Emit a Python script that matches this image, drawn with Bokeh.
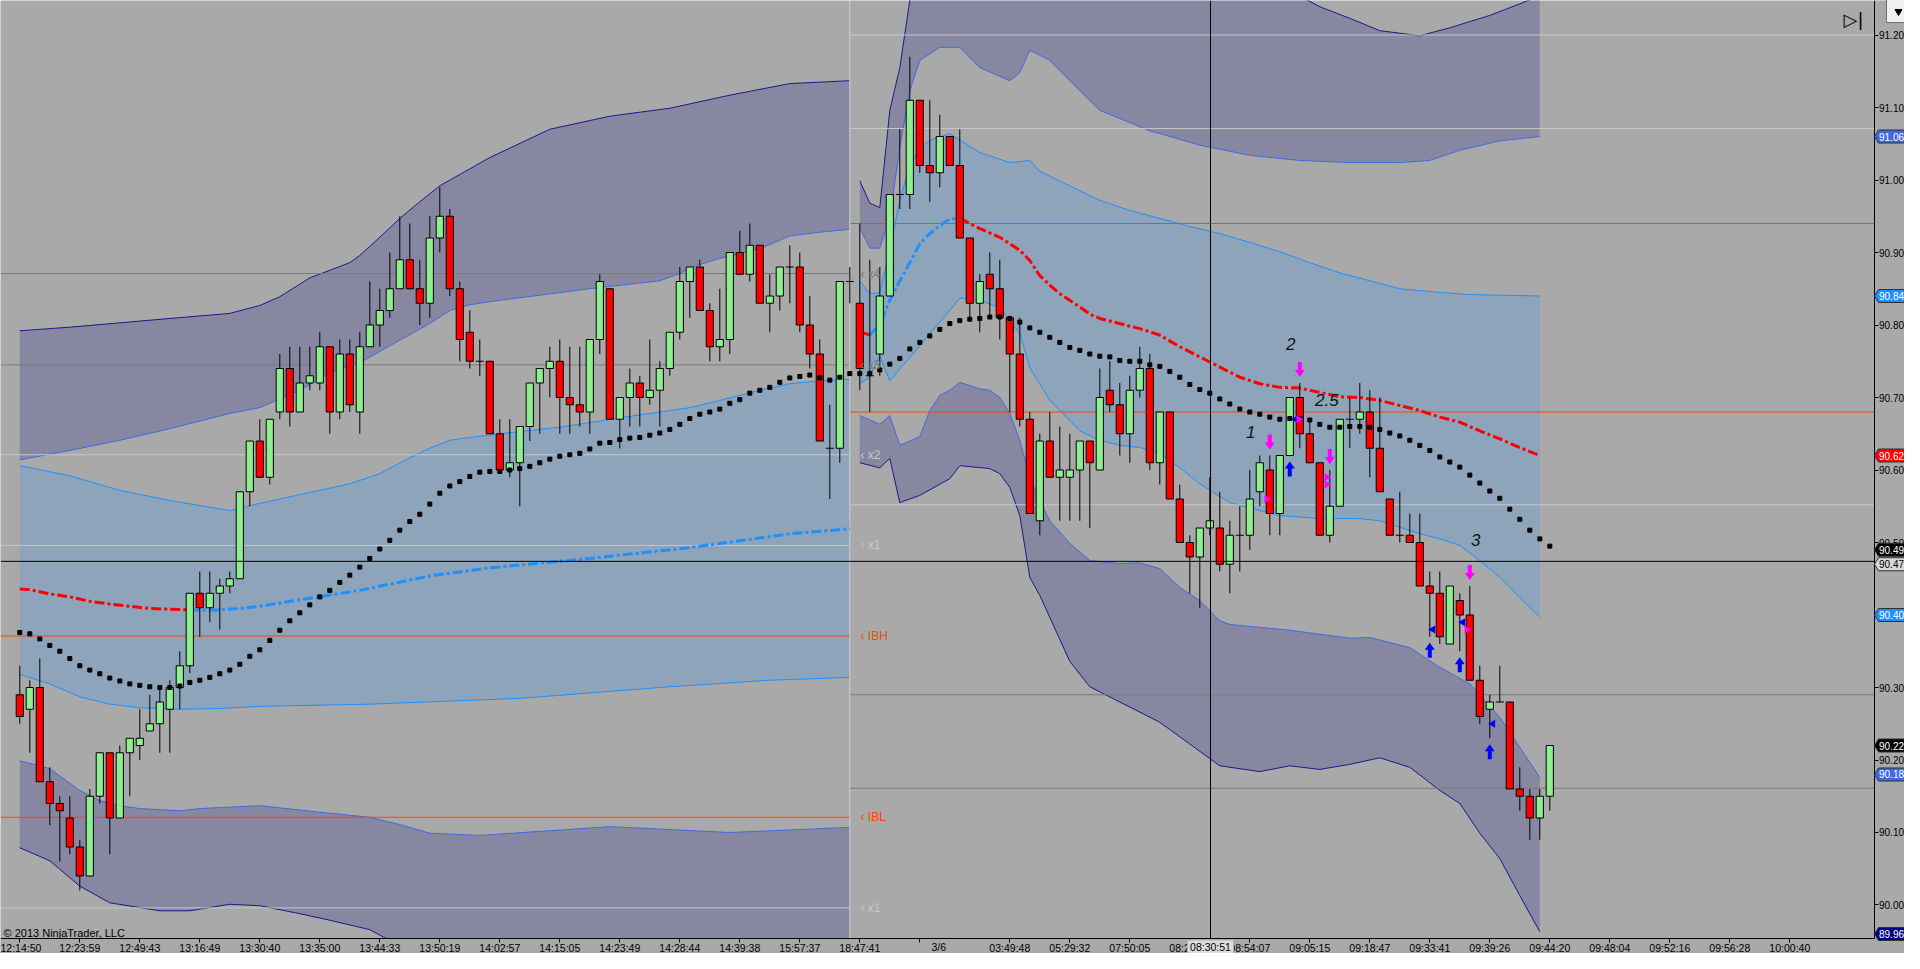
from bokeh.plotting import figure
from bokeh.models import Range1d, FixedTicker, PrintfTickFormatter, Label
from bokeh.core.properties import value
from bokeh.embed import file_html
from bokeh.resources import INLINE

# ---------------- data ----------------
opens = [90.29,90.27,90.30,90.17,90.14,90.12,90.08,90.04,90.15,90.21,
 90.12,90.21,90.22,90.24,90.25,90.27,90.30,90.33,90.43,90.41,
 90.43,90.44,90.45,90.57,90.64,90.59,90.68,90.74,90.68,90.72,
 90.72,90.77,90.68,90.76,90.68,90.77,90.80,90.82,90.85,90.89,
 90.85,90.83,90.92,90.95,90.85,90.79,90.75,90.75,90.65,90.60,
 90.61,90.66,90.72,90.74,90.75,90.70,90.69,90.68,90.78,90.85,
 90.67,90.70,90.72,90.70,90.71,90.74,90.79,90.86,90.88,90.82,
 90.77,90.78,90.90,90.87,90.91,90.83,90.84,90.88,90.88,90.80,
 90.76,90.63,90.63,90.86,90.83,90.73,90.76,90.84,90.98,90.98,
 91.11,91.02,91.01,91.06,91.02,90.92,90.83,90.87,90.85,90.81,
 90.76,90.67,90.53,90.64,90.59,90.59,90.60,90.64,90.60,90.71,
 90.69,90.65,90.71,90.74,90.61,90.68,90.56,90.50,90.48,90.52,
 90.52,90.47,90.51,90.51,90.57,90.60,90.54,90.62,90.70,90.65,
 90.61,90.51,90.55,90.67,90.67,90.68,90.63,90.56,90.51,90.51,
 90.50,90.44,90.43,90.36,90.42,90.40,90.31,90.27,90.28,90.28,
 90.16,90.15,90.12,90.15]
highs = [90.33,90.31,90.34,90.19,90.15,90.15,90.09,90.16,90.21,90.21,
 90.22,90.23,90.27,90.29,90.30,90.31,90.35,90.43,90.46,90.46,
 90.45,90.46,90.57,90.64,90.67,90.67,90.76,90.77,90.77,90.77,
 90.79,90.77,90.78,90.78,90.79,90.86,90.85,90.90,90.95,90.94,
 90.89,90.95,90.99,90.96,90.86,90.82,90.78,90.75,90.67,90.67,
 90.66,90.72,90.74,90.77,90.78,90.77,90.77,90.78,90.87,90.85,
 90.70,90.74,90.73,90.78,90.75,90.79,90.88,90.88,90.89,90.83,
 90.85,90.90,90.93,90.94,90.91,90.87,90.88,90.91,90.90,90.84,
 90.78,90.69,90.86,90.88,90.94,90.89,90.88,90.98,91.07,91.17,
 91.11,91.11,91.09,91.06,91.07,90.92,90.87,90.90,90.89,90.81,
 90.81,90.68,90.65,90.68,90.66,90.65,90.64,90.64,90.74,90.75,
 90.72,90.73,90.77,90.76,90.68,90.68,90.58,90.51,90.52,90.59,
 90.57,90.53,90.55,90.60,90.62,90.62,90.62,90.70,90.72,90.67,
 90.61,90.60,90.67,90.70,90.72,90.71,90.70,90.56,90.57,90.54,
 90.54,90.46,90.46,90.44,90.43,90.44,90.33,90.29,90.33,90.28,
 90.19,90.16,90.16,90.22]
lows = [90.25,90.21,90.17,90.11,90.06,90.07,90.02,90.04,90.14,90.07,
 90.12,90.15,90.20,90.24,90.21,90.21,90.27,90.32,90.37,90.39,
 90.38,90.43,90.45,90.55,90.59,90.58,90.67,90.66,90.68,90.71,
 90.71,90.65,90.67,90.68,90.65,90.77,90.77,90.81,90.85,90.85,
 90.80,90.81,90.90,90.84,90.75,90.74,90.73,90.65,90.60,90.59,
 90.55,90.64,90.65,90.70,90.65,90.65,90.66,90.65,90.76,90.67,
 90.63,90.66,90.66,90.69,90.66,90.73,90.78,90.81,90.82,90.75,
 90.75,90.76,90.87,90.86,90.83,90.79,90.82,90.83,90.79,90.74,
 90.64,90.56,90.61,90.83,90.71,90.68,90.73,90.84,90.96,90.96,
 91.01,90.97,90.99,91.02,90.92,90.81,90.79,90.81,90.78,90.68,
 90.66,90.54,90.51,90.59,90.53,90.53,90.53,90.52,90.60,90.68,
 90.62,90.61,90.70,90.60,90.58,90.56,90.50,90.43,90.41,90.51,
 90.46,90.43,90.46,90.49,90.55,90.51,90.51,90.62,90.63,90.61,
 90.51,90.50,90.55,90.63,90.65,90.59,90.57,90.51,90.50,90.50,
 90.44,90.37,90.36,90.36,90.35,90.31,90.25,90.23,90.28,90.16,
 90.13,90.09,90.09,90.13]
closes = [90.26,90.30,90.17,90.14,90.13,90.08,90.04,90.15,90.21,90.12,
 90.21,90.23,90.23,90.25,90.28,90.30,90.33,90.43,90.41,90.43,
 90.44,90.45,90.57,90.64,90.59,90.67,90.74,90.68,90.72,90.73,
 90.77,90.68,90.76,90.69,90.77,90.80,90.82,90.85,90.89,90.85,
 90.83,90.92,90.95,90.85,90.78,90.75,90.75,90.65,90.60,90.61,
 90.66,90.72,90.74,90.75,90.70,90.69,90.68,90.78,90.86,90.67,
 90.70,90.72,90.70,90.71,90.74,90.79,90.86,90.88,90.82,90.77,
 90.78,90.90,90.87,90.91,90.83,90.84,90.88,90.88,90.80,90.76,
 90.64,90.63,90.86,90.86,90.74,90.73,90.84,90.98,90.98,91.11,
 91.02,91.01,91.06,91.02,90.92,90.83,90.86,90.85,90.81,90.76,
 90.67,90.54,90.64,90.59,90.60,90.60,90.64,90.61,90.70,90.69,
 90.65,90.71,90.74,90.61,90.68,90.56,90.50,90.48,90.52,90.53,
 90.47,90.51,90.51,90.56,90.61,90.54,90.62,90.70,90.65,90.61,
 90.51,90.55,90.67,90.67,90.68,90.63,90.57,90.51,90.51,90.50,
 90.44,90.43,90.37,90.44,90.40,90.31,90.26,90.28,90.28,90.16,
 90.15,90.12,90.15,90.22]

# black dotted moving average
ma_dots = [90.376,90.374,90.367,90.358,90.350,90.340,90.330,90.324,90.319,90.313,
 90.309,90.305,90.303,90.301,90.300,90.300,90.302,90.307,90.310,90.314,
 90.319,90.324,90.332,90.343,90.352,90.365,90.379,90.392,90.403,90.414,
 90.425,90.434,90.445,90.455,90.466,90.478,90.491,90.503,90.517,90.529,
 90.539,90.553,90.568,90.578,90.584,90.591,90.597,90.598,90.598,90.600,
 90.602,90.605,90.610,90.615,90.619,90.621,90.623,90.629,90.637,90.638,
 90.642,90.644,90.645,90.648,90.651,90.656,90.663,90.671,90.677,90.680,
 90.684,90.692,90.697,90.706,90.710,90.714,90.721,90.727,90.729,90.731,
 90.727,90.724,90.728,90.733,90.733,90.733,90.738,90.746,90.754,90.767,
 90.776,90.785,90.794,90.802,90.806,90.808,90.809,90.811,90.811,90.809,
 90.804,90.796,90.790,90.783,90.776,90.769,90.765,90.760,90.757,90.756,
 90.751,90.750,90.750,90.745,90.743,90.736,90.728,90.718,90.711,90.706,
 90.698,90.691,90.684,90.680,90.677,90.673,90.670,90.671,90.671,90.669,
 90.663,90.659,90.659,90.660,90.660,90.659,90.656,90.651,90.647,90.641,
 90.634,90.627,90.618,90.611,90.604,90.593,90.582,90.571,90.561,90.546,
 90.532,90.517,90.505,90.495]

# session A (previous day) VWAP and bands
a_vw_x = [0,1,3,5,7,9,11,13,15,17,20,22,24,28,34,41,47,57,67,77,83]
a_vw = [90.436,90.435,90.429,90.425,90.419,90.415,90.412,90.409,90.408,90.407,90.407,
        90.409,90.412,90.421,90.434,90.454,90.465,90.478,90.493,90.512,90.519]
a_u3_x = [0,5,10,15,21,24,26,29,33,34,36,38,40,42,47,53,59,65,71,77,83]
a_u3 = [90.792,90.797,90.803,90.809,90.816,90.827,90.839,90.865,90.886,90.896,
        90.921,90.947,90.970,90.992,91.031,91.070,91.088,91.099,91.117,91.133,91.137]
a_u2_x = [0,5,10,15,21,24,28,31,34,38,41,43,45,48,57,64,66,67,70,74,77,80,83]
a_u2 = [90.614,90.627,90.641,90.657,90.678,90.686,90.710,90.734,90.748,90.779,
        90.802,90.820,90.828,90.834,90.850,90.861,90.871,90.879,90.892,90.905,90.923,90.928,90.932]
a_u1_x = [0,5,10,15,21,24,29,33,36,39,41,43,45,48,54,60,67,70,74,77,80,83]
a_u1 = [90.606,90.592,90.572,90.558,90.544,90.554,90.569,90.581,90.595,90.617,
        90.630,90.641,90.645,90.650,90.659,90.672,90.686,90.696,90.710,90.719,90.723,90.725]
a_l1_x = [0,3,6,9,12,16,20,24,35,50,65,75,83]
a_l1 = [90.318,90.305,90.287,90.277,90.272,90.270,90.271,90.274,90.277,90.285,90.301,90.310,90.314]
a_l2_x = [0,3,6,8,10,12,16,18,24,30,35,38,41,46,59,71,83]
a_l2 = [90.199,90.188,90.158,90.144,90.137,90.133,90.130,90.133,90.137,90.128,90.121,90.111,
        90.099,90.096,90.108,90.100,90.107]
a_l3_x = [0,3,6,9,14,17,21,24,28,31,35,37,42,50,60,70,83]
a_l3 = [90.079,90.061,90.026,90.003,89.992,89.992,90.001,89.999,89.988,89.979,89.966,89.951,
        89.923,89.896,89.882,89.882,89.889]

# session B (3/6) VWAP and bands
b_vw_x = [84,85,86,87,88,89,90,91,92,93,94,96,98,100,101,102,103,104,105,106,107,108,110,112,
          114,116,118,120,122,124,126,128,130,132,134,136,138,140,142,144,146,148,150,152]
b_vw = [90.791,90.786,90.801,90.834,90.861,90.886,90.912,90.926,90.937,90.946,90.947,90.933,
        90.921,90.903,90.889,90.868,90.855,90.843,90.834,90.825,90.815,90.809,90.802,90.795,
        90.786,90.770,90.756,90.742,90.728,90.719,90.714,90.713,90.707,90.701,90.700,90.696,
        90.689,90.682,90.673,90.666,90.654,90.643,90.631,90.620]
b_u3_x = [84,85,86,87,88,89,90,95,100,110,120,127,130,133,136,140,143,147,150,152]
b_u3 = [90.999,90.968,90.962,91.096,91.155,91.248,91.303,91.386,91.413,91.386,91.330,91.261,
        91.239,91.223,91.206,91.199,91.210,91.227,91.243,91.254]
b_u2_x = [84,85,86,87,88,89,90,92,94,96,99,100,101,103,105,108,113,118,123,128,133,138,141,144,148,152]
b_u2 = [90.934,90.906,90.906,90.948,91.045,91.123,91.165,91.183,91.183,91.155,91.137,91.148,
        91.179,91.165,91.137,91.096,91.068,91.048,91.034,91.027,91.024,91.024,91.027,91.041,91.054,91.060]
b_u1_x = [84,85,86,87,88,89,90,91,93,96,99,101,102,105,108,111,114,117,120,123,126,129,132,135,138,142,145,152]
b_u1 = [90.861,90.843,90.845,90.904,90.972,91.020,91.044,91.055,91.064,91.038,91.024,91.027,
        91.012,90.992,90.972,90.958,90.947,90.936,90.926,90.914,90.901,90.886,90.872,90.861,
        90.850,90.845,90.842,90.840]
b_l1_x = [84,85,86,87,89,91,93,94,96,98,100,101,103,106,108,110,112,114,116,118,121,124,126,
          130,134,136,138,140,142,144,146,148,150,152]
b_l1 = [90.719,90.728,90.757,90.723,90.755,90.788,90.820,90.837,90.834,90.824,90.788,90.741,
        90.696,90.654,90.641,90.634,90.631,90.623,90.603,90.581,90.555,90.544,90.537,90.533,
        90.533,90.530,90.521,90.512,90.505,90.496,90.475,90.452,90.424,90.397]
b_l2_x = [84,86,87,88,90,91,92,93,94,96,97,98,99,100,101,102,103,105,107,110,112,114,116,118,
          120,121,127,133,135,139,142,145,148,152]
b_l2 = [90.675,90.663,90.675,90.634,90.646,90.682,90.703,90.710,90.721,90.712,90.710,90.700,
        90.678,90.641,90.590,90.558,90.530,90.499,90.475,90.471,90.472,90.464,90.438,90.420,
        90.392,90.387,90.379,90.368,90.369,90.355,90.328,90.305,90.259,90.176]
b_l3_x = [84,86,87,88,90,93,94,97,98,99,100,101,102,105,107,114,120,124,127,130,133,136,139,
          142,144,146,148,150,152]
b_l3 = [90.610,90.603,90.616,90.555,90.565,90.588,90.606,90.602,90.595,90.576,90.537,90.452,
        90.427,90.336,90.301,90.252,90.192,90.184,90.192,90.187,90.194,90.203,90.190,90.158,
        90.140,90.099,90.064,90.013,89.963]

# horizontal levels
left_levels = [90.871, 90.745, 90.621, 90.496, 90.371, 90.121, 89.996]
left_names = ["x4", "x3", "x2", "x1", "IBH", "IBL", "x1"]
right_levels = [91.200, 91.071, 90.940, 90.680, 90.552, 90.290, 90.161]

# trade markers
down_arrow_bars = [125, 128, 131, 145]
up_arrow_bars = [127, 141, 144, 147]
buy_marks_x = [127.6, 141.3, 144.3, 147.3]
buy_marks_y = [90.67, 90.38, 90.39, 90.25]
sell_marks_x = [124.7, 127.9, 130.7, 130.7, 144.7]
sell_marks_y = [90.56, 90.67, 90.59, 90.58, 90.38]
notes = ["1", "2", "2.5", "3"]
notes_x = [123.1, 127.1, 130.7, 145.6]
notes_y = [90.652, 90.774, 90.696, 90.503]

price_ticks = [90.00, 90.10, 90.20, 90.30, 90.40, 90.50, 90.60, 90.70, 90.80, 90.90, 91.00, 91.10, 91.20]
time_ticks = [0,6,12,18,24,30,36,42,48,54,60,66,72,78,84,90,99,105,111,117,123,129,135,141,147,153,159,165,171,177]
time_labels = ["12:14:50","12:23:59","12:49:43","13:16:49","13:30:40","13:35:00","13:44:33","13:50:19",
               "14:02:57","14:15:05","14:23:49","14:28:44","14:39:38","15:57:37","18:47:41","",
               "03:49:48","05:29:32","07:50:05","08:24:36","08:54:07","09:05:15","09:18:47","09:33:41",
               "09:39:26","09:44:20","09:48:04","09:52:16","09:56:28","10:00:40"]
date_label = "3/6"
date_label_x = 91.9
cross_bar = 119.07
cross_price = 90.474
cross_time = "08:30:51"

# right-axis price markers: (price, background, text colour)
tags = [(91.06, "#4169E1", "white"), (90.84, "#1E90FF", "white"), (90.62, "#FF0000", "white"),
        (90.49, "#000000", "white"), (90.47, "#D8D8D8", "black"), (90.40, "#1E90FF", "white"),
        (90.22, "#000000", "white"), (90.18, "#4169E1", "white"), (89.96, "#000080", "white")]

# ---------------- figure ----------------
BG = "#A9A9A9"
FONT = "Liberation Sans"
PX = 0.1          # one screen pixel in bar units
PY = 1.0 / 725.0  # one screen pixel in price units
X0, X1 = -1.93, 188.47
Y0, Y1 = 89.9331, 91.2476
YAX = 185.42      # bar position of the price axis
XAX = 89.9538     # price position of the time axis

p = figure(width=1904, height=953, x_range=Range1d(X0, X1), y_range=Range1d(Y0, Y1),
           output_backend="svg", toolbar_location=None, y_axis_location="right",
           min_border_left=0, min_border_right=0, min_border_top=0, min_border_bottom=0,
           background_fill_color=BG, border_fill_color=BG, outline_line_color=None)
p.grid.visible = False

xa = p.xaxis[0]
xa.ticker = FixedTicker(ticks=time_ticks)
xa.major_label_overrides = {t: l for t, l in zip(time_ticks, time_labels)}
xa.fixed_location = XAX
xa.bounds = (X0, YAX)
ya = p.yaxis[0]
ya.ticker = FixedTicker(ticks=price_ticks)
ya.formatter = PrintfTickFormatter(format="%.2f")
ya.fixed_location = YAX
ya.bounds = (XAX, Y1)
for ax in (xa, ya):
    ax.axis_line_color = "black"
    ax.major_tick_line_color = "black"
    ax.minor_tick_line_color = None
    ax.major_tick_in = 0
    ax.major_tick_out = 4
    ax.major_label_text_font = FONT
    ax.major_label_text_color = "black"
xa.major_label_text_font_size = "10.5px"
xa.major_label_standoff = 0
ya.major_label_text_font_size = "10px"
ya.major_label_standoff = 1


def band(xu, yu, xl, yl, color):
    p.patch(list(xu) + list(xl)[::-1], list(yu) + list(yl)[::-1],
            fill_color=color, fill_alpha=0.2, line_color=None)


# band fills
for s in ((a_u3_x, a_u3, a_u2_x, a_u2, "#000080"), (a_u1_x, a_u1, a_l1_x, a_l1, "#1E90FF"),
          (a_l2_x, a_l2, a_l3_x, a_l3, "#000080"),
          (b_u3_x, b_u3, b_u2_x, b_u2, "#000080"), (b_u1_x, b_u1, b_l1_x, b_l1, "#1E90FF"),
          (b_l2_x, b_l2, b_l3_x, b_l3, "#000080")):
    band(*s)

# band edge lines
for xs, ys, c in ((a_u3_x, a_u3, "#1A1A8C"), (a_l3_x, a_l3, "#1A1A8C"),
                  (a_u2_x, a_u2, "#4169E1"), (a_l2_x, a_l2, "#4169E1"),
                  (a_u1_x, a_u1, "#1E90FF"), (a_l1_x, a_l1, "#1E90FF"),
                  (b_u3_x, b_u3, "#1A1A8C"), (b_l3_x, b_l3, "#1A1A8C"),
                  (b_u2_x, b_u2, "#4169E1"), (b_l2_x, b_l2, "#4169E1"),
                  (b_u1_x, b_u1, "#1E90FF"), (b_l1_x, b_l1, "#1E90FF")):
    p.line(xs, ys, line_color=c, line_width=1)

# keep the axis strips clear
p.quad(left=[X0], right=[X1], bottom=[Y0], top=[XAX], fill_color=BG, line_color=None)
p.quad(left=[YAX], right=[X1], bottom=[Y0], top=[Y1], fill_color=BG, line_color=None)

# horizontal level lines
left_colors = ["#7A7A7A", "#7A7A7A", "#C8C8C8", "#C8C8C8", "#FF4500", "#FF4500", "#C8C8C8"]
right_colors = ["#C8C8C8", "#C8C8C8", "#FF4500", "#FF4500", "#C8C8C8", "#7A7A7A", "#7A7A7A"]
p.segment(x0=[X0] * len(left_levels), y0=left_levels, x1=[83] * len(left_levels), y1=left_levels,
          line_color=left_colors, line_width=1)
p.segment(x0=[83] * len(right_levels), y0=right_levels, x1=[YAX] * len(right_levels), y1=right_levels,
          line_color=right_colors, line_width=1)
for lv, nm, c in zip(left_levels, left_names, left_colors):
    p.add_layout(Label(x=84.07, y=lv, text="\u2039 " + nm, text_font=FONT, text_font_size="12px",
                       text_color=c, text_baseline="middle", text_align="left"))

# session break
p.segment(x0=[83], y0=[XAX], x1=[83], y1=[Y1], line_color="#D0D0D0", line_width=1)

# VWAP lines (red while falling, blue while rising)
DASH = "10 3 3 3"
p.line(a_vw_x[:10], a_vw[:10], line_color="#FF0000", line_width=3, line_dash=DASH)
p.line(a_vw_x[9:], a_vw[9:], line_color="#1E90FF", line_width=3, line_dash=DASH)
p.line(b_vw_x[:2], b_vw[:2], line_color="#FF0000", line_width=3, line_dash=DASH)
p.line(b_vw_x[1:11], b_vw[1:11], line_color="#1E90FF", line_width=3, line_dash=DASH)
p.line(b_vw_x[10:], b_vw[10:], line_color="#FF0000", line_width=3, line_dash=DASH)

# candles
idx = list(range(len(opens)))
p.segment(x0=idx, y0=highs, x1=idx, y1=lows, line_color="black", line_width=1)
body_i = [i for i in idx if opens[i] != closes[i]]
p.vbar(x=body_i, width=0.72,
       top=[max(opens[i], closes[i]) for i in body_i],
       bottom=[min(opens[i], closes[i]) for i in body_i],
       fill_color=["#90EE90" if closes[i] > opens[i] else "#FF0000" for i in body_i],
       line_color="black", line_width=1)
doji_i = [i for i in idx if opens[i] == closes[i]]
p.segment(x0=[i - 0.4 for i in doji_i], y0=[opens[i] for i in doji_i],
          x1=[i + 0.4 for i in doji_i], y1=[opens[i] for i in doji_i], line_color="black", line_width=1)

# moving-average dots
p.scatter(idx, ma_dots, marker="square", size=4, color="black")

# trade arrows
shape = [(0, 0), (5, 7), (2, 7), (2, 15), (-2, 15), (-2, 7), (-5, 7)]
dxs, dys = [], []
for b in down_arrow_bars:
    tip = highs[b] + 6 * PY
    dxs.append([b + sx * PX for sx, sy in shape])
    dys.append([tip + sy * PY for sx, sy in shape])
p.patches(dxs, dys, fill_color="#FF00FF", line_color=None)
uxs, uys = [], []
for b in up_arrow_bars:
    tip = lows[b] - 6 * PY
    uxs.append([b + sx * PX for sx, sy in shape])
    uys.append([tip - sy * PY for sx, sy in shape])
p.patches(uxs, uys, fill_color="#0000FF", line_color=None)
p.scatter(buy_marks_x, buy_marks_y, marker="triangle", size=8, angle=1.5708,
          fill_color="#0000FF", line_color=None)
p.scatter(sell_marks_x, sell_marks_y, marker="triangle", size=8, angle=-1.5708,
          fill_color="#FF00FF", line_color=None)

for t, tx, ty in zip(notes, notes_x, notes_y):
    p.add_layout(Label(x=tx, y=ty, text=t, text_font=FONT, text_font_size="17px",
                       text_font_style="italic", text_color="#111111",
                       text_align="center", text_baseline="middle"))

# crosshair
p.segment(x0=[cross_bar], y0=[XAX], x1=[cross_bar], y1=[Y1], line_color="black", line_width=1)
p.segment(x0=[X0], y0=[cross_price], x1=[YAX], y1=[cross_price], line_color="black", line_width=1)
LBL_Y = XAX - 9 * PY
p.quad(left=[cross_bar - 2.3], right=[cross_bar + 2.3], bottom=[Y0], top=[XAX - 1.5 * PY],
       fill_color="#DCDCDC", line_color="#B0B0B0", level="overlay")
p.text(x=[cross_bar], y=[LBL_Y], text=[cross_time], text_font=value(FONT), text_font_size="10.5px",
       text_color="black", text_align="center", text_baseline="middle", level="overlay")
p.text(x=[date_label_x], y=[LBL_Y], text=[date_label], text_font=value(FONT), text_font_size="10.5px",
       text_color="black", text_align="center", text_baseline="middle")

# right-axis price tags
H = 6.5 * PY
txs, tys = [], []
for pr, bg, fg in tags:
    txs.append([YAX + 0.05, YAX + 0.45, X1 + 1, X1 + 1, YAX + 0.45])
    tys.append([pr, pr + H, pr + H, pr - H, pr - H])
p.patches(txs, tys, fill_color=[t[1] for t in tags], line_color="#303030", line_width=1, level="overlay")
p.text(x=[YAX + 0.5] * len(tags), y=[t[0] for t in tags], text=["%.2f" % t[0] for t in tags],
       text_color=[t[2] for t in tags], text_font=value(FONT), text_font_size="10px",
       text_align="left", text_baseline="middle", level="overlay")

# chart furniture
p.add_layout(Label(x=X0 + 0.3, y=89.961, text="\u00A9 2013 NinjaTrader, LLC", text_font=FONT,
                   text_font_size="11px", text_color="black", text_baseline="middle"))
p.add_layout(Label(x=183.37, y=91.221, text="\u25B7|", text_font="DejaVu Sans", text_font_size="18px",
                   text_color="black", text_align="center", text_baseline="middle"))
p.quad(left=[X1 - 1.8], right=[X1 + 1], bottom=[Y1 - 22 * PY], top=[Y1 + PY],
       fill_color="#F0F0F0", line_color="#707070", level="overlay")
p.scatter([X1 - 0.6], [Y1 - 11 * PY], marker="inverted_triangle", size=7, color="black", level="overlay")

open("out.html", "w").write(file_html(p, INLINE))
